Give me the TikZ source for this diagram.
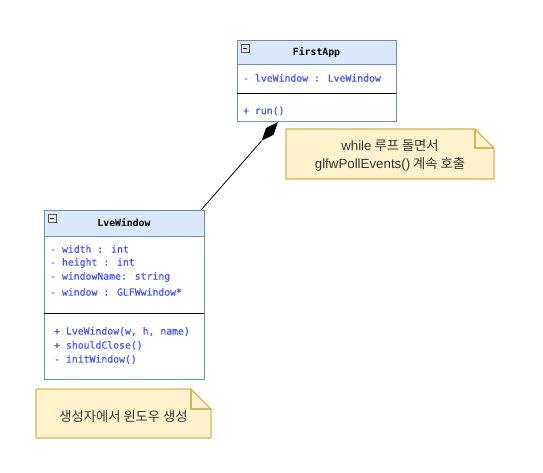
\documentclass[tikz,border=0pt]{standalone}
\usepackage{fontspec}
\setmonofont{DejaVu Sans Mono}
\newfontfamily\memfont[FakeBold=0.5]{DejaVu Sans Mono}
\newfontfamily\krfont{Noto Sans CJK KR}
\newfontfamily\latfont{Liberation Sans}
\usetikzlibrary{shapes.geometric,calc}
\definecolor{hdrfill}{HTML}{DAE8FC}
\definecolor{hdrdraw}{HTML}{6C8EBF}
\definecolor{membertext}{HTML}{4455FF}
\definecolor{notefill}{HTML}{FFF2CC}
\definecolor{notedraw}{HTML}{D6B656}
\definecolor{notetext}{HTML}{333333}
\tikzset{
  classbox/.style={draw=hdrdraw, line width=0.8pt},
  hdrbox/.style={draw=hdrdraw, fill=hdrfill, line width=0.8pt},
  sepline/.style={draw=black, line width=0.8pt},
  member/.style={anchor=west, inner sep=0pt, text=membertext, font=\memfont\fontsize{9.8}{11}\selectfont},
  title/.style={inner sep=0pt, font=\ttfamily\bfseries\fontsize{9.8}{11}\selectfont},
  notebox/.style={fill=notefill, draw=notedraw, line width=1.4pt, line join=miter},
  notetxt/.style={inner sep=0pt, align=center, text=notetext, font=\krfont\fontsize{13.3}{17.6}\selectfont},
  iconbox/.style={draw=gray!70!black, fill=gray!15, line width=0.5pt}
}
\begin{document}
\begin{tikzpicture}[x=1pt,y=-1pt]
\useasboundingbox (0,0) rectangle (543,472);
% FirstApp class
\path[hdrbox] (237,40) rectangle (396,64);
\path[classbox] (237,64) rectangle (396,121);
\draw[sepline] (237,93) -- (396,93);
\path[iconbox] (241,44) rectangle (249,52);
\draw[line width=0.6pt] (242.8,48) -- (247.2,48);
\node[title] (fa) at (316.5,52.5) {FirstApp};
\node[member] (fa1) at (243,78) {- lveWindow : LveWindow};
\node[member] (fa2) at (243,111) {+ run()};
\coordinate (faBottom) at (278,122);
% LveWindow class
\path[hdrbox] (44,210) rectangle (204,236);
\path[classbox] (44,236) rectangle (204,379);
\draw[sepline] (44,313) -- (204,313);
\path[iconbox] (48,214) rectangle (56,222);
\draw[line width=0.6pt] (49.8,218) -- (54.2,218);
\node[title] (lw) at (124,223) {LveWindow};
\node[member] (lw1) at (50,249) {- width : int};
\node[member] (lw2) at (50,263) {- height : int};
\node[member] (lw3) at (50,277) {- windowName: string};
\node[member] (lw4) at (50,292) {- window : GLFWwindow*};
\node[member] (lw5) at (54,331.5) {+ LveWindow(w, h, name)};
\node[member] (lw6) at (54,345.5) {+ shouldClose()};
\node[member] (lw7) at (54,359.5) {- initWindow()};
\coordinate (lwTop) at (201.5,209.5);
% composition
\coordinate (dmEnd) at ($(faBottom)!25pt!(lwTop)$);
\coordinate (dmMid) at ($(faBottom)!0.5!(dmEnd)$);
\coordinate (dmA) at ($(dmMid)!5pt!90:(dmEnd)$);
\coordinate (dmB) at ($(dmMid)!5pt!-90:(dmEnd)$);
\draw[line width=0.8pt] (lwTop) -- (dmEnd);
\fill[black] (faBottom) -- (dmA) -- (dmEnd) -- (dmB) -- cycle;
% note 1
\path[notebox] (286,129) -- (475,129) -- (494,148) -- (494,179) -- (286,179) -- cycle;
\draw[notedraw, line width=1.4pt] (475,129) -- (475,148) -- (494,148);
\node[notetxt] (n1) at (390,155.5) {{\latfont while} 루프 돌면서\\{\latfont glfwPollEvents()} 계속 호출};
% note 2
\path[notebox] (36,389) -- (191,389) -- (211,409) -- (211,438) -- (36,438) -- cycle;
\draw[notedraw, line width=1.4pt] (191,389) -- (191,409) -- (211,409);
\node[notetxt] (n2) at (123.5,416.5) {생성자에서 윈도우 생성};
\end{tikzpicture}
\end{document}
